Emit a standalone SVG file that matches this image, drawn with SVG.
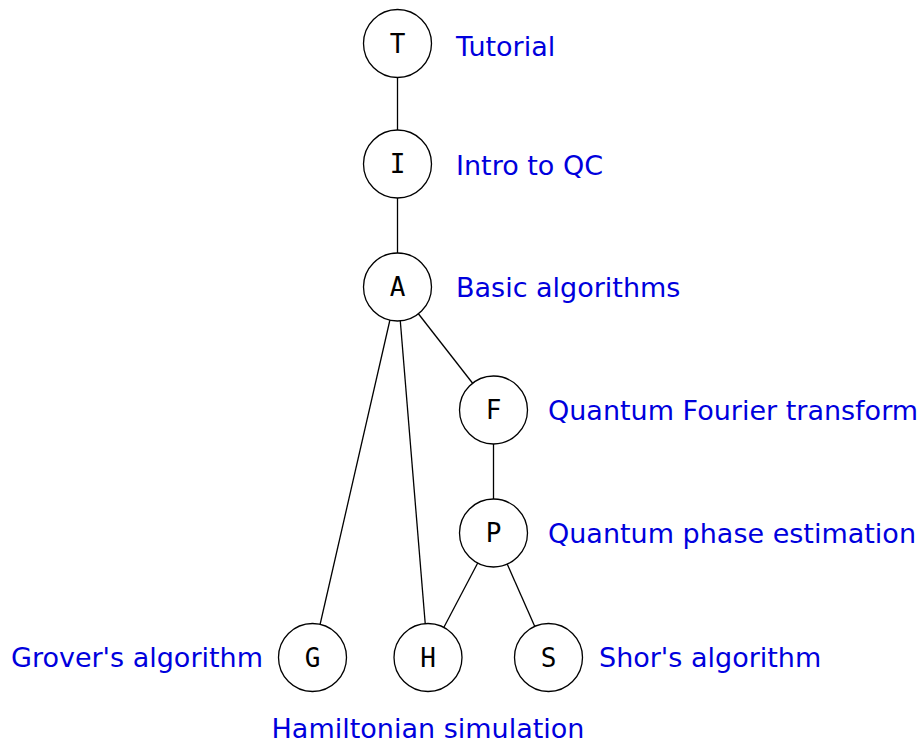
<svg xmlns="http://www.w3.org/2000/svg" width="922" height="742" viewBox="0 0 922 742">
<style>
.edge{stroke:#000;stroke-width:1.3;fill:none}
.node circle{fill:#fff;stroke:#000;stroke-width:1.3}
.node text{font-family:"DejaVu Sans Mono",monospace;font-size:26px;fill:#000;text-anchor:middle}
.lbl{font-family:"DejaVu Sans",sans-serif;font-size:27px;fill:#0000dd}
</style>
<rect width="922" height="742" fill="#fff"/>
<g id="connectors">
<line class="edge" x1="397.5" y1="43.5" x2="397.5" y2="164"/>
<line class="edge" x1="397.5" y1="164" x2="397.5" y2="287"/>
<line class="edge" x1="397.5" y1="287" x2="493.5" y2="410"/>
<line class="edge" x1="397.5" y1="287" x2="312.5" y2="657.5"/>
<line class="edge" x1="397.5" y1="287" x2="428" y2="657.5"/>
<line class="edge" x1="493.5" y1="410" x2="493.5" y2="533"/>
<line class="edge" x1="493.5" y1="533" x2="428" y2="657.5"/>
<line class="edge" x1="493.5" y1="533" x2="548.5" y2="657.5"/>
</g>
<g id="T" class="node"><circle cx="397.5" cy="43.5" r="34"/><text x="397.5" y="52.5">T</text></g>
<g id="I" class="node"><circle cx="397.5" cy="164" r="34"/><text x="397.5" y="173">I</text></g>
<g id="A" class="node"><circle cx="397.5" cy="287" r="34"/><text x="397.5" y="296">A</text></g>
<g id="F" class="node"><circle cx="493.5" cy="410" r="34"/><text x="493.5" y="419">F</text></g>
<g id="P" class="node"><circle cx="493.5" cy="533" r="34"/><text x="493.5" y="542">P</text></g>
<g id="G" class="node"><circle cx="312.5" cy="657.5" r="34"/><text x="312.5" y="666.5">G</text></g>
<g id="H" class="node"><circle cx="428" cy="657.5" r="34"/><text x="428" y="666.5">H</text></g>
<g id="S" class="node"><circle cx="548.5" cy="657.5" r="34"/><text x="548.5" y="666.5">S</text></g>
<g id="labels">
<text class="lbl" x="456" y="56">Tutorial</text>
<text class="lbl" x="456" y="175">Intro to QC</text>
<text class="lbl" x="456" y="297">Basic algorithms</text>
<text class="lbl" x="548" y="420">Quantum Fourier transform</text>
<text class="lbl" x="548" y="543">Quantum phase estimation</text>
<text class="lbl" x="263" y="667" text-anchor="end">Grover's algorithm</text>
<text class="lbl" x="599" y="667">Shor's algorithm</text>
<text class="lbl" x="428" y="738" text-anchor="middle">Hamiltonian simulation</text>
</g>
</svg>
